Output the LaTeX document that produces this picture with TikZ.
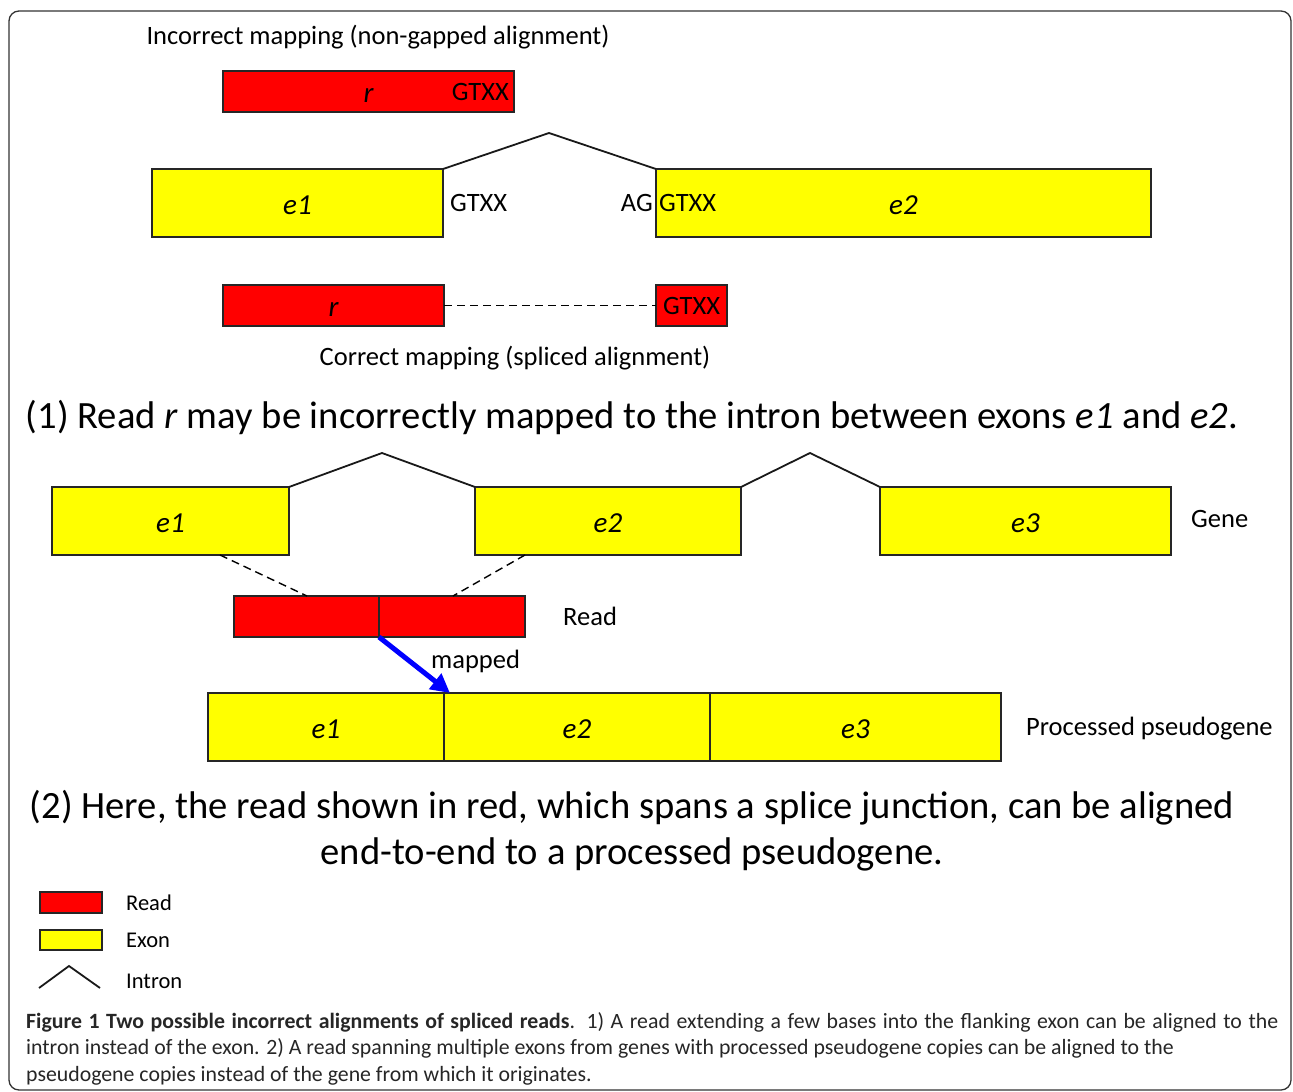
\documentclass[tikz,border=0pt]{standalone}
\usepackage{fontspec}
\setmainfont{Carlito}
\usetikzlibrary{arrows.meta, calc}

\definecolor{exonyellow}{RGB}{255,255,0}
\definecolor{readred}{RGB}{255,0,0}
\newcommand{\labfont}{\fontsize{26.5}{32}\selectfont}
\newcommand{\stmtfont}{\fontsize{38.6}{46}\selectfont}
\newcommand{\exfont}{\fontsize{29}{34}\selectfont\itshape}
\newcommand{\legfont}{\fontsize{22.5}{27}\selectfont}
\newcommand{\capfont}{\fontsize{21.8}{26.5}\selectfont}

\tikzset{cell/.style = {draw=black!85, line width=1.3pt, inner sep=0pt, outer sep=0pt, anchor=north west},
  read/.style = {cell, fill=readred},
  exon/.style = {cell, fill=exonyellow, font=\exfont, minimum height=68pt, text height=24pt},
  intron/.style = {line width=1.8pt, black!90},
  link/.style = {line width=1.4pt, dash pattern=on 8pt off 5pt},
  arrow/.style = {line width=5pt, blue, -{Triangle[length=19pt, width=19pt]}},
  lbl/.style = {font=\labfont, inner sep=0pt},
  leg/.style = {font=\legfont, inner sep=0pt, anchor=west}}

\begin{document}
\begin{tikzpicture}[x=1pt, y=-1pt]
\useasboundingbox (0,0) rectangle (1293,1092);
\draw[black!80, line width=1.3pt, rounded corners=10pt] (9,11) rectangle (1291,1090);

% (1) read across the intron
\node[lbl] (tit1) at (378,37) {Incorrect mapping (non-gapped alignment)};
\node[read, minimum width=291pt, minimum height=41pt, font=\exfont, text height=21pt] (rw) at (223,71) {r};
\node[lbl, anchor=east] (gw) at ([xshift=-5pt]rw.east) {GTXX};

\node[exon, minimum width=291pt] (ea) at (152,169) {e1};
\node[exon, minimum width=495pt] (eb) at (656,169) {e2};
\coordinate (ta) at (549,133);
\draw[intron] (ea.north east) -- (ta) -- (eb.north west);
\node[lbl, anchor=west] (gd) at ([xshift=7pt]ea.east) {GTXX};
\node[lbl, anchor=east] (ag) at ([xshift=-3pt]eb.west) {AG};
\node[lbl, anchor=west] (ga) at ([xshift=3pt]eb.west) {GTXX};

\node[read, minimum width=221pt, minimum height=41pt, font=\exfont, text height=21pt] (ra) at (223,285) {r};
\node[read, minimum width=71pt, minimum height=41pt, font=\labfont] (rb) at (656,285) {GTXX};
\draw[link] (ra.east) -- (rb.west);
\node[lbl] (tit2) at (515,358) {Correct mapping (spliced alignment)};

\node[font=\stmtfont, inner sep=0pt] (st1) at (632,417) {(1) Read \emph{r} may be incorrectly mapped to the intron between exons \emph{e1} and \emph{e2}.};

% (2) gene and processed pseudogene
\node[exon, minimum width=237pt] (g1) at (52,487) {e1};
\node[exon, minimum width=266pt] (g2) at (475,487) {e2};
\node[exon, minimum width=291pt] (g3) at (880,487) {e3};
\coordinate (tb) at (382,453);
\coordinate (tc) at (810,453);
\draw[intron] (g1.north east) -- (tb) -- (g2.north west);
\draw[intron] (g2.north east) -- (tc) -- (g3.north west);
\node[lbl, anchor=west] (gene) at ([xshift=20pt, yshift=2pt]g3.east) {Gene};

\node[read, minimum width=145pt, minimum height=41pt] (rd1) at (234,596) {};
\node[read, minimum width=146pt, minimum height=41pt] (rd2) at (379,596) {};
\draw[link] ([xshift=-69pt]g1.south east) -- ([xshift=73pt]rd1.north west);
\draw[link] ([xshift=50pt]g2.south west) -- ([xshift=-72pt]rd2.north east);
\node[lbl, anchor=west] (rdl) at ([xshift=38pt]rd2.east) {Read};

\node[exon, minimum width=236pt] (p1) at (208,693) {e1};
\node[exon, minimum width=266pt] (p2) at (444,693) {e2};
\node[exon, minimum width=291pt] (p3) at (710,693) {e3};
\node[lbl, anchor=west] (psl) at ([xshift=25pt, yshift=-2pt]p3.east) {Processed pseudogene};

\draw[arrow] (rd1.south east) -- ([xshift=6pt]p1.north east);
\node[lbl, anchor=west] (map) at (431,661) {mapped};

\node[font=\stmtfont, inner sep=0pt, align=center] (st2) at (632,831) {(2) Here, the read shown in red, which spans a splice junction, can be aligned\\end-to-end to a processed pseudogene.};

% legend
\node[read, minimum width=62pt, minimum height=21pt] (lr) at (40,892) {};
\node[leg] (lrt) at ([xshift=24pt]lr.east) {Read};
\node[exon, minimum width=62pt, minimum height=20pt, text height=0pt] (le) at (40,930) {};
\node[leg] (let) at ([xshift=24pt]le.east) {Exon};
\coordinate (la) at (39,988);
\coordinate (lb) at (69,966);
\coordinate (lc) at (100,988);
\draw[intron] (la) -- (lb) -- (lc);
\node[leg] (lit) at (126,981) {Intron};

% caption
\node[font=\capfont, text=black!85, text width=1252pt, align=justify, anchor=north west, inner sep=0pt] (cap) at (26,1012) {\textbf{Figure 1 Two possible incorrect alignments of spliced reads}. 1) A read extending a few bases into the flanking exon can be aligned to the\linebreak intron instead of the exon. 2) A read spanning multiple exons from genes with processed pseudogene copies can be aligned to the\newline pseudogene copies instead of the gene from which it originates.};
\end{tikzpicture}
\end{document}
